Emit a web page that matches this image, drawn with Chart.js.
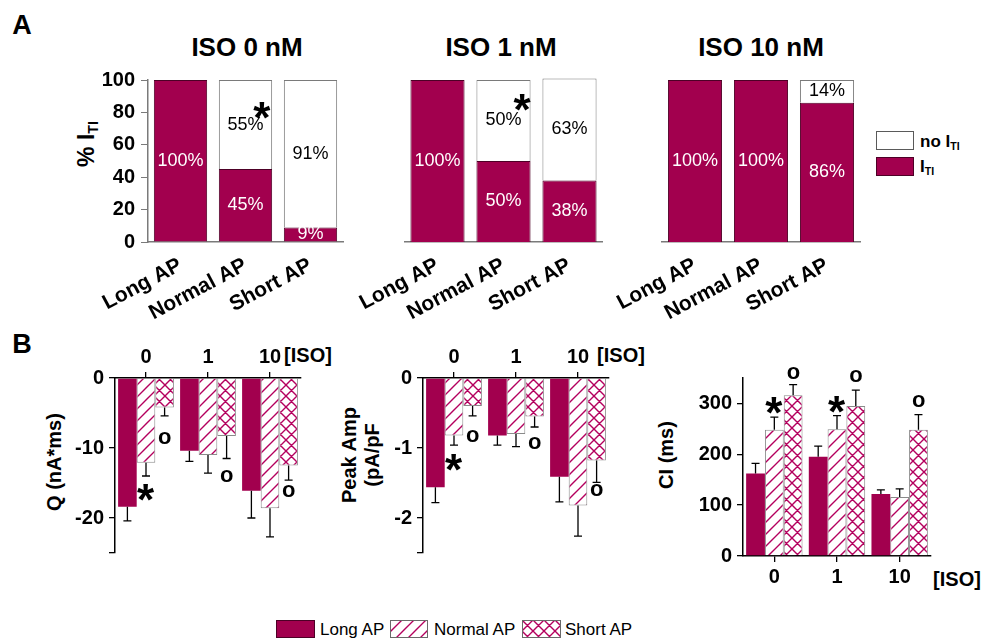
<!DOCTYPE html>
<html>
<head>
<meta charset="utf-8">
<title>I_TI occurrence and properties vs ISO</title>
<script src="https://cdn.jsdelivr.net/npm/chart.js@4.4.1/dist/chart.umd.min.js"></script>
<style>
  body { margin: 0; background: #fff; }
  #fig { position: relative; width: 986px; height: 641px; overflow: hidden;
         font-family: Arial, "Liberation Sans", sans-serif; color: #000; }
  #fig canvas { position: absolute; }
  .t { position: absolute; white-space: nowrap; line-height: 1; font-weight: bold; }
  .c { transform: translate(-50%, -50%); }
  .l { transform: translateY(-50%); }
  .r { transform: translate(-50%, -50%) rotate(-90deg); text-align: center; }
  .t sub { font-size: 62%; vertical-align: -0.3em; line-height: 0; }
  .reg { font-weight: normal; }
</style>
</head>
<body>
<div id="fig">
  <div class="t c" style="left:22px;top:25px;font-size:27px">A</div>
  <div class="t c" style="left:22px;top:344px;font-size:27px">B</div>

  <div class="t c" style="left:247px;top:47px;font-size:26px">ISO 0 nM</div>
  <div class="t c" style="left:501px;top:47px;font-size:26px">ISO 1 nM</div>
  <div class="t c" style="left:761px;top:47px;font-size:26px">ISO 10 nM</div>

  <div class="t r" style="left:86px;top:144px;font-size:23px">% I<sub>TI</sub></div>
  <div class="t r" style="left:54px;top:462px;font-size:20px">Q (nA*ms)</div>
  <div class="t r" style="left:361px;top:455px;font-size:20px;line-height:23px">Peak Amp<br>(pA/pF</div>
  <div class="t r" style="left:666px;top:455px;font-size:20px">CI (ms)</div>

  <div class="t c" style="left:308px;top:355px;font-size:20px">[ISO]</div>
  <div class="t c" style="left:621px;top:355px;font-size:20px">[ISO]</div>
  <div class="t c" style="left:957px;top:579px;font-size:20px">[ISO]</div>

  <canvas id="a0" width="350" height="260" style="left:0;top:60px"></canvas>
  <canvas id="a1" width="290" height="260" style="left:330px;top:60px"></canvas>
  <canvas id="a10" width="270" height="260" style="left:600px;top:60px"></canvas>
  <canvas id="bQ" width="340" height="240" style="left:0;top:330px"></canvas>
  <canvas id="bAmp" width="300" height="240" style="left:330px;top:330px"></canvas>
  <canvas id="bCI" width="326" height="260" style="left:660px;top:340px"></canvas>

  <!-- legend, panel A -->
  <canvas id="swNo" width="38" height="19" style="left:876px;top:131px"></canvas>
  <canvas id="swIti" width="38" height="19" style="left:876px;top:157px"></canvas>
  <div class="t l" style="left:920px;top:141px;font-size:17px">no I<sub>TI</sub></div>
  <div class="t l" style="left:920px;top:166px;font-size:17px">I<sub>TI</sub></div>

  <!-- legend, panel B -->
  <canvas id="swLong" width="39" height="18" style="left:276px;top:620px"></canvas>
  <canvas id="swNormal" width="38" height="18" style="left:390px;top:620px"></canvas>
  <canvas id="swShort" width="39" height="18" style="left:522px;top:620px"></canvas>
  <div class="t l reg" style="left:320px;top:629px;font-size:17px">Long AP</div>
  <div class="t l reg" style="left:434px;top:629px;font-size:17px">Normal AP</div>
  <div class="t l reg" style="left:565px;top:629px;font-size:17px">Short AP</div>
</div>

<script>
const apTypes = ['Long AP', 'Normal AP', 'Short AP'];
const isoLevels = ['0', '1', '10'];

// A: % of cells with / without I_TI at each ISO concentration
const itiIso0 = [100, 45, 9];
const noItiIso0 = [0, 55, 91];
const itiIso1 = [100, 50, 38];
const noItiIso1 = [0, 50, 63];
const itiIso10 = [100, 100, 86];
const noItiIso10 = [0, 0, 14];

// B: means and SEM per [ISO] 0, 1, 10
const qLong = [-18.4, -10.4, -16.1];
const qNormal = [-12.1, -11.0, -18.6];
const qShort = [-4.2, -8.3, -12.5];
const qLongErr = [2.0, 1.5, 3.9];
const qNormalErr = [1.9, 2.6, 4.1];
const qShortErr = [1.2, 3.2, 2.1];

const ampLong = [-1.56, -0.82, -1.41];
const ampNormal = [-0.82, -0.80, -1.82];
const ampShort = [-0.40, -0.55, -1.18];
const ampLongErr = [0.22, 0.14, 0.36];
const ampNormalErr = [0.14, 0.18, 0.44];
const ampShortErr = [0.14, 0.15, 0.31];

const ciLong = [162, 195, 122];
const ciNormal = [248, 249, 116];
const ciShort = [316, 295, 248];
const ciLongErr = [20, 21, 8];
const ciNormalErr = [25, 27, 16];
const ciShortErr = [21, 31, 30];

const FONT = 'Arial, "Liberation Sans", sans-serif';
Chart.defaults.font.family = FONT;
Chart.defaults.color = '#000';

const maroon = '#a2004e';
const maroonEdge = '#4d0026';
const hatchInk = '#b4005e';
const greyEdge = '#8a8a8a';

// diagonal / cross hatch fills
function hatch(cross, n) {
    const c = document.createElement('canvas');
    c.width = c.height = n;
    const g = c.getContext('2d');
    g.fillStyle = '#fff';
    g.fillRect(0, 0, n, n);
    g.strokeStyle = hatchInk;
    g.lineWidth = 1.4;
    g.beginPath();
    g.moveTo(-1, n + 1); g.lineTo(n + 1, -1);
    g.moveTo(-1, 1); g.lineTo(1, -1);
    g.moveTo(n - 1, n + 1); g.lineTo(n + 1, n - 1);
    if (cross) {
        g.moveTo(-1, -1); g.lineTo(n + 1, n + 1);
        g.moveTo(n - 1, -1); g.lineTo(n + 1, 1);
        g.moveTo(-1, n - 1); g.lineTo(1, n + 1);
    }
    g.stroke();
    return g.createPattern(c, 'repeat');
}
const diag = hatch(false, 12);
const cross = hatch(true, 11);

function drawMark(ctx, text, x, yc) {
    ctx.save();
    ctx.fillStyle = '#000';
    ctx.font = text === '*' ? 'bold 44px ' + FONT : 'bold 22px ' + FONT;
    ctx.textAlign = 'left';
    ctx.textBaseline = 'alphabetic';
    const m = ctx.measureText(text);
    const w = m.actualBoundingBoxLeft + m.actualBoundingBoxRight;
    ctx.fillText(text, x - w / 2 + m.actualBoundingBoxLeft,
        yc + (m.actualBoundingBoxAscent - m.actualBoundingBoxDescent) / 2);
    ctx.restore();
}

// value labels, error bars and significance marks
const barExtras = {
    id: 'barExtras',
    afterDatasetsDraw(chart, args, opts) {
        const ctx = chart.ctx;
        const y = chart.scales.y;
        chart.data.datasets.forEach((ds, i) => {
            chart.getDatasetMeta(i).data.forEach((bar, j) => {
                const v = ds.data[j];
                if (ds.valueColor && v > 0) {
                    ctx.save();
                    ctx.fillStyle = ds.valueColor;
                    ctx.font = '18px ' + FONT;
                    ctx.textAlign = 'center';
                    ctx.textBaseline = 'middle';
                    ctx.fillText(v + '%', bar.x, (bar.y + bar.base) / 2);
                    ctx.restore();
                }
                if (ds.errors) {
                    const e = ds.errors[j];
                    const end = y.getPixelForValue(v < 0 ? v - e : v + e);
                    ctx.save();
                    ctx.strokeStyle = '#000';
                    ctx.lineWidth = 1.3;
                    ctx.beginPath();
                    ctx.moveTo(bar.x, bar.y);
                    ctx.lineTo(bar.x, end);
                    ctx.moveTo(bar.x - 4, end);
                    ctx.lineTo(bar.x + 4, end);
                    ctx.stroke();
                    ctx.restore();
                }
            });
        });
        (opts.marks || []).forEach(m => {
            const ds = chart.data.datasets[m.ds];
            const bar = chart.getDatasetMeta(m.ds).data[m.i];
            if (m.corner) {
                drawMark(ctx, m.text, bar.x + bar.width / 2 + m.dx, bar.y + m.dy);
            } else {
                const v = ds.data[m.i];
                const e = ds.errors[m.i];
                const end = y.getPixelForValue(v < 0 ? v - e : v + e);
                drawMark(ctx, m.text, bar.x, v < 0 ? end + m.gap : end - m.gap);
            }
        });
    }
};

const boldTick = { size: 20, weight: 'bold' };

function percentChart(id, iti, noIti, yWidth, padRight, showY, marks) {
    return new Chart(document.getElementById(id), {
        type: 'bar',
        data: {
            labels: apTypes,
            datasets: [{
                label: 'I_TI',
                data: iti,
                backgroundColor: maroon,
                borderColor: maroonEdge,
                borderWidth: c => c.raw ? 1 : 0,
                barPercentage: 0.82,
                categoryPercentage: 1,
                valueColor: '#fff'
            }, {
                label: 'no I_TI',
                data: noIti,
                backgroundColor: '#fff',
                borderColor: '#7a7a7a',
                borderWidth: c => c.raw ? 1 : 0,
                barPercentage: 0.82,
                categoryPercentage: 1,
                valueColor: '#000',
                clip: false
            }]
        },
        options: {
            responsive: false,
            animation: false,
            devicePixelRatio: 1,
            layout: { padding: { left: 0, top: 20, right: padRight, bottom: 0 } },
            plugins: {
                legend: { display: false },
                tooltip: { enabled: false },
                barExtras: { marks: marks }
            },
            scales: {
                x: {
                    stacked: true,
                    grid: { display: false },
                    border: { color: '#7a7a7a', width: 1.5 },
                    ticks: { font: { size: 21, weight: 'bold' }, maxRotation: 28, minRotation: 28, padding: 3, autoSkip: false },
                    afterFit: s => { s.height = 78; }
                },
                y: {
                    stacked: true,
                    min: 0,
                    max: 100,
                    ticks: { display: showY, stepSize: 20, font: boldTick, padding: 6 },
                    grid: { display: showY, drawOnChartArea: false, tickLength: 7, color: '#7a7a7a' },
                    border: { display: showY, color: '#7a7a7a', width: 1.5 },
                    afterFit: s => { s.width = yWidth; }
                }
            }
        },
        plugins: [barExtras]
    });
}

percentChart('a0', itiIso0, noItiIso0, 148, 7, true,
    [{ ds: 1, i: 1, text: '*', corner: true, dx: -10, dy: 30 }]);
percentChart('a1', itiIso1, noItiIso1, 74.5, 17.5, false,
    [{ ds: 1, i: 1, text: '*', corner: true, dx: -8, dy: 22 }]);
percentChart('a10', itiIso10, noItiIso10, 62, 10, false, []);

function groupedChart(id, long, normal, short, longErr, normalErr, shortErr, o) {
    return new Chart(document.getElementById(id), {
        type: 'bar',
        data: {
            labels: isoLevels,
            datasets: [{
                label: 'Long AP',
                data: long,
                errors: longErr,
                backgroundColor: maroon,
                borderColor: maroonEdge,
                borderWidth: 0
            }, {
                label: 'Normal AP',
                data: normal,
                errors: normalErr,
                backgroundColor: diag,
                borderColor: greyEdge,
                borderWidth: 1
            }, {
                label: 'Short AP',
                data: short,
                errors: shortErr,
                backgroundColor: cross,
                borderColor: greyEdge,
                borderWidth: 1
            }]
        },
        options: {
            responsive: false,
            animation: false,
            devicePixelRatio: 1,
            datasets: { bar: { categoryPercentage: 0.9, barPercentage: 1 } },
            layout: { padding: o.pad },
            plugins: {
                legend: { display: false },
                tooltip: { enabled: false },
                barExtras: { marks: o.marks }
            },
            scales: {
                x: {
                    position: o.xPos,
                    grid: { offset: false, drawOnChartArea: false, tickLength: 6, color: '#000', lineWidth: 1.3 },
                    border: { color: '#000', width: 1.5 },
                    ticks: { font: { size: 20, weight: 'bold' }, padding: 3, maxRotation: 0 },
                    afterFit: s => { s.height = o.xHeight; }
                },
                y: {
                    min: o.min,
                    max: o.max,
                    ticks: {
                        stepSize: o.step,
                        font: { size: 20, weight: 'bold' },
                        padding: 5,
                        callback: v => o.labelled(v) ? v : ''
                    },
                    grid: {
                        drawOnChartArea: false,
                        tickLength: 6,
                        lineWidth: 1.3,
                        tickColor: c => (c.tick && o.ticked(c.tick.value)) ? '#000' : 'rgba(0,0,0,0)'
                    },
                    border: { color: '#000', width: 1.5 },
                    afterFit: s => { s.width = o.yWidth; }
                }
            }
        },
        plugins: [barExtras]
    });
}

const isInt = v => Math.abs(v - Math.round(v)) < 1e-6;

groupedChart('bQ', qLong, qNormal, qShort, qLongErr, qNormalErr, qShortErr, {
    min: -25, max: 0, step: 5,
    labelled: v => v % 10 === 0,
    ticked: v => v % 10 === 0 || v === -25,
    xPos: 'top', xHeight: 48, yWidth: 115,
    pad: { left: 0, top: 0, right: 39, bottom: 14 },
    marks: [
        { ds: 1, i: 0, text: '*', gap: 16 },
        { ds: 2, i: 0, text: 'o', gap: 22 },
        { ds: 2, i: 1, text: 'o', gap: 17 },
        { ds: 2, i: 2, text: 'o', gap: 11 }
    ]
});

groupedChart('bAmp', ampLong, ampNormal, ampShort, ampLongErr, ampNormalErr, ampShortErr, {
    min: -2.5, max: 0, step: 0.5,
    labelled: v => isInt(v),
    ticked: v => isInt(v) || Math.abs(v + 2.5) < 1e-6,
    xPos: 'top', xHeight: 48, yWidth: 93,
    pad: { left: 0, top: 0, right: 21, bottom: 14 },
    marks: [
        { ds: 1, i: 0, text: '*', gap: 17 },
        { ds: 2, i: 0, text: 'o', gap: 20 },
        { ds: 2, i: 1, text: 'o', gap: 16 },
        { ds: 2, i: 2, text: 'o', gap: 8 }
    ]
});

groupedChart('bCI', ciLong, ciNormal, ciShort, ciLongErr, ciNormalErr, ciShortErr, {
    min: 0, max: 350, step: 50,
    labelled: v => v % 100 === 0,
    ticked: v => true,
    xPos: 'bottom', xHeight: 44, yWidth: 83,
    pad: { left: 0, top: 38, right: 55, bottom: 0 },
    marks: [
        { ds: 1, i: 0, text: '*', gap: 12 },
        { ds: 2, i: 0, text: 'o', gap: 12 },
        { ds: 1, i: 1, text: '*', gap: 11 },
        { ds: 2, i: 1, text: 'o', gap: 14 },
        { ds: 2, i: 2, text: 'o', gap: 14 }
    ]
});

// legend swatches
function swatch(id, fill, edge) {
    const c = document.getElementById(id);
    const g = c.getContext('2d');
    g.fillStyle = fill;
    g.fillRect(0, 0, c.width, c.height);
    g.strokeStyle = edge;
    g.lineWidth = 1;
    g.strokeRect(0.5, 0.5, c.width - 1, c.height - 1);
}
swatch('swNo', '#fff', '#5a5a5a');
swatch('swIti', maroon, maroonEdge);
swatch('swLong', maroon, maroonEdge);
swatch('swNormal', diag, '#6a6a6a');
swatch('swShort', cross, '#6a6a6a');
</script>
</body>
</html>
